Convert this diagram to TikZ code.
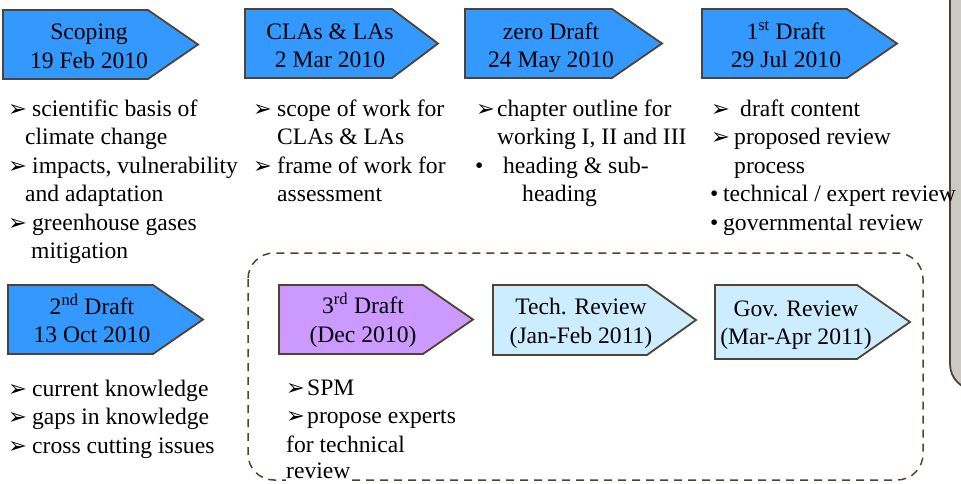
\documentclass[tikz,border=0pt]{standalone}
\usepackage{fontspec}
\setmainfont{Liberation Serif}
\newfontfamily\dej{DejaVu Sans}
\definecolor{bordc}{RGB}{80,66,52}
\definecolor{bluef}{RGB}{51,153,255}
\definecolor{lbluef}{RGB}{204,236,255}
\definecolor{purpf}{RGB}{204,153,255}
\definecolor{panelf}{RGB}{204,200,196}
\newcommand\bulA{\raisebox{0pt}{\fontsize{22.5}{22.5}\selectfont\dej ➢}}
\newcommand\ItA[2]{\strut\makebox[0pt][l]{\bulA}\hspace*{#1pt}#2}
\newcommand\ItD[2]{\strut\makebox[0pt][l]{\hspace*{-1pt}•}\hspace*{#1pt}#2}
\newcommand\ItT[2]{\strut\hspace*{#1pt}#2}
\newcommand\abox[6]{\filldraw[abox,fill=#1] (#2,#3) -- (#4,#3) -- (#5,{(#3+#6)/2}) -- (#4,#6) -- (#2,#6) -- cycle;}
\tikzset{
  abox/.style={draw=bordc, line width=1.8pt, line join=miter},
  btext/.style={align=center, inner sep=0pt, font=\fontsize{23.6}{28.5}\selectfont},
  body/.style={align=left, inner sep=0pt, anchor=north west, font=\fontsize{23.6}{28.5}\selectfont},
  dashbox/.style={draw=bordc, line width=1.5pt, dash pattern=on 8pt off 6pt, rounded corners=26pt},
  panel/.style={draw=bordc, fill=panelf, line width=1.8pt, rounded corners=26pt}
}
\begin{document}
\begin{tikzpicture}[x=1pt,y=-1pt]
\useasboundingbox (0,0) rectangle (961,483);
% right gray panel
\begin{scope}
\clip (0,0) rectangle (961,483);
\path[panel] (950,-40) rectangle (1010,390);
\end{scope}
% dashed group
\path[dashbox] (248,253) rectangle (923,480);
% arrow boxes, row 1
\abox{bluef}{3}{10}{148}{198}{79}
\abox{bluef}{245}{9}{392}{438}{78}
\abox{bluef}{465}{9}{612}{662}{78}
\abox{bluef}{702}{9}{847}{897}{78}
% row 2
\abox{bluef}{8}{285}{153}{203}{354}
\abox{purpf}{279}{285}{423}{473}{354}
\abox{lbluef}{493}{285}{647}{696}{355}
\abox{lbluef}{715}{285}{857}{910}{359}
% box texts
\node[btext] (t1) at (89,48.5) {Scoping\strut\\19 Feb 2010\strut};
\node[btext] (t2) at (330,48) {CLAs \& LAs\strut\\2 Mar 2010\strut};
\node[btext] (t3) at (551,48) {zero Draft\strut\\24 May 2010\strut};
\node[btext] (t4) at (786,48) {1\textsuperscript{st} Draft\strut\\29 Jul 2010\strut};
\node[btext] (t5) at (92,322.5) {2\textsuperscript{nd} Draft\strut\\13 Oct 2010\strut};
\node[btext] (t6) at (363,322) {3\textsuperscript{rd} Draft\strut\\(Dec 2010)\strut};
\node[btext] (t7) at (581,323.5) {Tech. Review\strut\\(Jan-Feb 2011)\strut};
\node[btext] (t8) at (796,325) {Gov. Review\strut\\(Mar-Apr 2011)\strut};
% bodies
\node[body] (b1) at (8,{116-19.95}) {\ItA{24}{scientific basis of}\\
  \ItT{17}{climate change}\\
  \ItA{24}{impacts, vulnerability}\\
  \ItT{17}{and adaptation}\\
  \ItA{24}{greenhouse gases}\\
  \ItT{23}{mitigation}};
\node[body] (b2) at (253,{116-19.95}) {\ItA{24}{scope of work for}\\
  \ItT{24}{CLAs \& LAs}\\
  \ItA{24}{frame of work for}\\
  \ItT{24}{assessment}};
\node[body] (b3) at (476,{116-19.95}) {\ItA{21}{chapter outline for}\\
  \ItT{21}{working I, II and III}\\
  \ItD{27}{heading \& sub-}\\
  \ItT{46}{heading}};
\node[body] (b4) at (711,{116-19.95}) {\ItA{29}{draft content}\\
  \ItA{23}{proposed review}\\
  \ItT{23}{process}\\
  \ItD{12}{technical / expert review}\\
  \ItD{12}{governmental review}};
\node[body] (b5) at (8,{396-19.95}) {\ItA{24}{current knowledge}\\
  \ItA{24}{gaps in knowledge}\\
  \ItA{24}{cross cutting issues}};
\node[body] (b6) at (286,{395-19.95}) {\ItA{21}{SPM}\\
  \ItA{21}{propose experts}\\
  \ItT{0}{for technical}};
\node[body, fill=white] (b6r) at (286,{478-19.95}) {\ItT{0}{review}};
\end{tikzpicture}
\end{document}
